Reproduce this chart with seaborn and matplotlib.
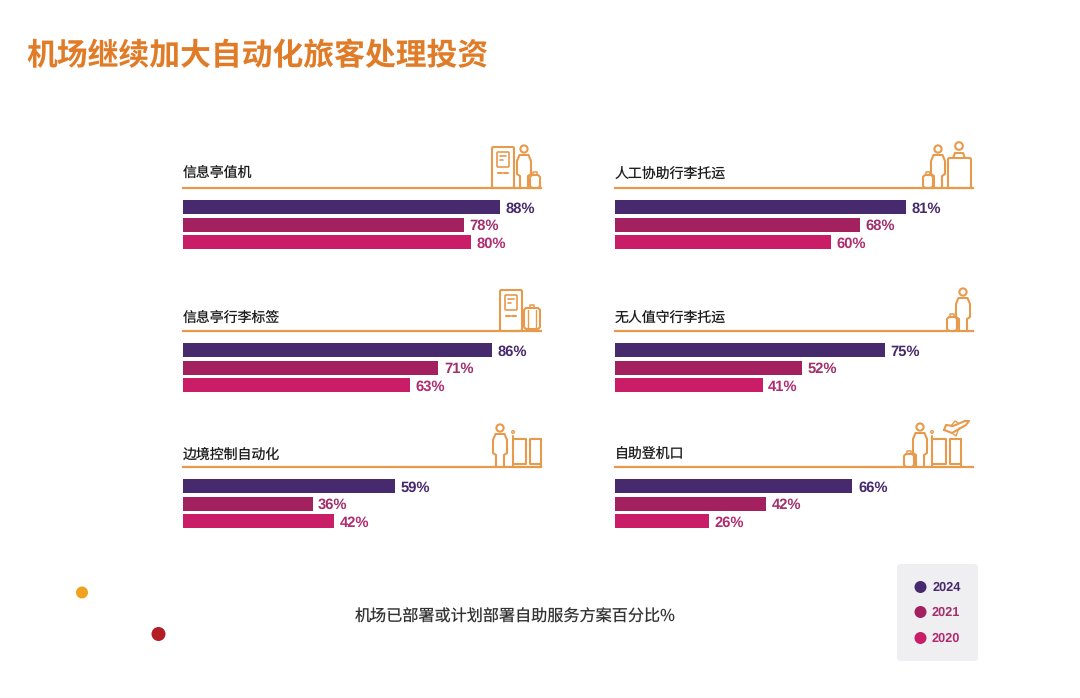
"""Airport self-service deployment chart: six small bar panels."""

import matplotlib.pyplot as plt
import numpy as np
import pandas as pd
import seaborn as sns
from matplotlib.patches import Circle, FancyBboxPatch

W, H = 1080, 698

years = ['2024', '2021', '2020']
panel_names = ['信息亭值机', '人工协助行李托运', '信息亭行李标签',
               '无人值守行李托运', '边境控制自动化', '自助登机口']
values_2024 = [88, 81, 86, 75, 59, 66]
values_2021 = [78, 68, 71, 52, 36, 42]
values_2020 = [80, 60, 63, 41, 42, 26]

title = '机场继续加大自动化旅客处理投资'
footnote = '机场已部署或计划部署自助服务方案百分比%'

bar_colors = {'2024': '#472a6e', '2021': '#a3215f', '2020': '#c91d68'}
text_colors = {'2024': '#472a6e', '2021': '#a12f6b', '2020': '#b02c70'}
ORANGE = '#e89a4c'

sns.set_theme(style='white')
plt.rcParams['font.family'] = ['Noto Sans CJK SC', 'DejaVu Sans']
plt.rcParams['text.hinting'] = 'no_hinting'

fig = plt.figure(figsize=(W / 100, H / 100), dpi=100, facecolor='white')

# panel frames in pixels: left edge, rule y, title y
frames = [(183, 188, 173), (615, 188, 175), (183, 331, 318),
          (615, 331, 318), (183, 467, 455), (615, 467, 455)]
AX_W, AX_H = 358, 63

for i, (name, (left, rule_y, label_y)) in enumerate(zip(panel_names, frames)):
    ax = fig.add_axes([left / W, 1 - (rule_y + AX_H) / H, AX_W / W, AX_H / H])
    df = pd.DataFrame({'year': years,
                       'value': [values_2024[i], values_2021[i], values_2020[i]]})
    sns.barplot(data=df, x='value', y='year', hue='year', order=years,
                hue_order=years, palette=bar_colors, dodge=False, width=0.8,
                saturation=1, linewidth=0, legend=False, ax=ax)
    ax.set_xlim(0, 99.5)
    ax.set_ylim(2.5, -1.08)
    ax.set_xlabel('')
    ax.set_ylabel('')
    ax.set_xticks([])
    ax.set_yticks([])
    for side in ['left', 'right', 'bottom']:
        ax.spines[side].set_visible(False)
    ax.spines['top'].set_color(ORANGE)
    ax.spines['top'].set_linewidth(1.6)
    ax.patch.set_alpha(0)
    for container, year in zip(ax.containers, years):
        labels = ax.bar_label(container, fmt='%g%%', padding=4, color=text_colors[year],
                              fontsize=10.6, fontweight='bold', family='Liberation Sans')
        # nudge down a little so the text sits on the bar's centre
        for t in labels:
            t.xyann = (t.xyann[0], t.xyann[1] - 1.1)

# overlay in pixel coordinates for title, icons and legend
ov = fig.add_axes([0, 0, 1, 1], zorder=5)
ov.set_xlim(0, W)
ov.set_ylim(H, 0)
ov.axis('off')

ov.text(26, 56, title, color='#e07b27', fontsize=22.2, fontweight='bold', va='center')
ov.text(355, 617, footnote, color='#333333', fontsize=11.6, fontweight='medium', va='center')

for name, (left, rule_y, label_y) in zip(panel_names, frames):
    ov.text(left, label_y, name, color='#1c1c1c', fontsize=10, fontweight='medium', va='center')

LW = 1.5


def line(xs, ys, lw=LW):
    ov.plot(xs, ys, color=ORANGE, lw=lw, solid_capstyle='round', solid_joinstyle='round')


def box(x0, y0, x1, y1, pad=1.5, lw=LW):
    ov.add_patch(FancyBboxPatch((x0 + pad, y0 + pad), x1 - x0 - 2 * pad, y1 - y0 - 2 * pad,
                                boxstyle=f'round,pad={pad}', fc='none', ec=ORANGE, lw=lw))


def person(cx, head_y, base):
    ov.add_patch(Circle((cx, head_y), 3.6, fc='none', ec=ORANGE, lw=LW))
    top = head_y + 6
    xs = np.array([-4, -4, -7, -7, -4.5, 4.5, 7, 7, 4, 4])
    ys = [base, base - 12, base - 14, top + 6, top, top, top + 6, base - 14, base - 12, base]
    line(cx + xs, ys)


def suitcase(cx, y0, y1, w=10):
    box(cx - w / 2, y0 + 3, cx + w / 2, y1, pad=3)
    line([cx - 2, cx - 2, cx + 2, cx + 2], [y0 + 3, y0, y0, y0 + 3], lw=1.1)


def kiosk(x0, x1, y0, y1):
    box(x0, y0, x1, y1)
    box(x0 + 5, y0 + 5, x1 - 5, y0 + 20, pad=1, lw=1.2)
    line([x0 + 8, x1 - 8], [y0 + 9, y0 + 9], lw=1.2)
    line([x0 + 8, x1 - 11], [y0 + 13, y0 + 13], lw=1.2)
    line([x0 + 6, x0 + 10], [y0 + 26, y0 + 26])
    line([x1 - 10, x1 - 6], [y0 + 26, y0 + 26])


def gate(x0, x1, base, top):
    mid = (x0 + x1) / 2
    # "pq" shaped barrier
    line([x0, x0], [top - 3, base])
    line([x0, mid - 1, mid - 1, x0], [top, top, base - 2, base - 2])
    line([x1, x1], [top, base])
    line([x1, mid + 3, mid + 3, x1], [top, top, base - 2, base - 2])
    ov.add_patch(Circle((x0, top - 7), 1.3, fc='none', ec=ORANGE, lw=1))


# row 1
kiosk(492, 514, 147, 188)
person(524, 149, 188)
suitcase(535, 172, 188)
person(938, 149, 188)
suitcase(928, 172, 188)
box(948, 158, 971, 188)
ov.add_patch(Circle((959, 146), 3.8, fc='none', ec=ORANGE, lw=LW))
line([953, 955, 963, 965], [158, 153, 153, 158])
# row 2
kiosk(500, 522, 290, 331)
suitcase(532, 305, 329, w=16)
line([528, 528], [310, 329], lw=1)
line([536, 536], [310, 329], lw=1)
person(963, 292, 331)
suitcase(952, 314, 331)
# row 3
person(500, 428, 467)
gate(513, 541, 466, 439)
person(920, 427, 467)
suitcase(909, 451, 467)
gate(932, 961, 466, 439)
line([944, 952, 966, 969, 965, 953, 946, 944],
     [430, 433, 425, 421, 421, 426, 425, 430])
line([952, 956, 959], [433, 436, 428], lw=1)
line([951, 955, 958], [426, 421, 423], lw=1)

# decorative dots
ov.add_patch(Circle((82, 592.5), 6, fc='#f0a11f', ec='none'))
ov.add_patch(Circle((158.5, 634), 7, fc='#b51d24', ec='none'))

# legend
ov.add_patch(FancyBboxPatch((901, 568), 73, 89, boxstyle='round,pad=4',
                            fc='#efeef1', ec='none', zorder=1))
for year, y, tx in zip(years, [587, 612, 638], [933, 932, 932]):
    ov.add_patch(Circle((920.5, y), 6, fc=bar_colors[year], ec='none', zorder=2))
    ov.text(tx, y + 1, year, color=text_colors[year], fontsize=9.2, fontweight='bold',
            family='Liberation Sans', va='center', zorder=2)

fig.savefig('out.png', dpi=100)
